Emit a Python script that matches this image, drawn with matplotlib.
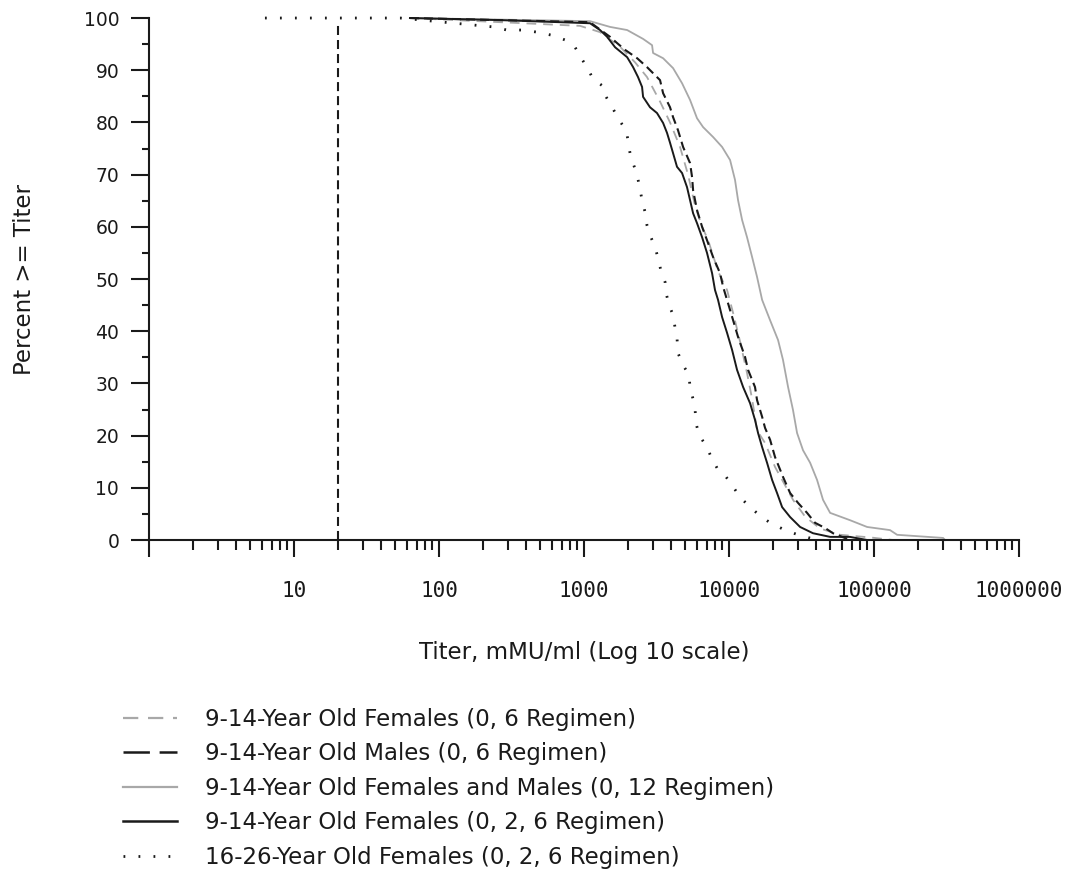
import matplotlib
matplotlib.use('Agg')
import matplotlib.pyplot as plt
from matplotlib.lines import Line2D
from matplotlib.ticker import MultipleLocator, LogLocator, NullFormatter

plt.rcParams['font.family'] = 'DejaVu Sans'
plt.rcParams['lines.scale_dashes'] = False

# reverse cumulative distributions (titer, percent >= titer)
fem06_titer = [63, 938, 1288, 1770, 2249, 2716, 3342, 3917, 4592, 5212, 5834, 6516,
               7161, 8395, 9683, 10666, 11912, 13305, 14421, 15596, 17701, 20749,
               24322, 27606, 33420, 42462, 58345, 93756, 135207]
fem06_pct = [100, 98.5, 97.3, 94.5, 91.5, 88.7, 84, 80, 75.3, 70, 64, 60,
             57.5, 51.5, 47.9, 43.5, 38, 32, 27, 21, 18.6, 14,
             10.5, 7.7, 4.5, 2.2, 1.0, 0.5, 0]

male06_titer = [63, 1099, 1510, 1690, 1919, 2323, 2716, 3342, 3508, 3917, 4111, 4446,
                4819, 5383, 5559, 5649, 6012, 6516, 7161, 7762, 8670, 9099, 9683,
                10666, 11535, 12882, 13521, 15101, 15596, 16904, 17701, 19187, 20749,
                23550, 26363, 29923, 34514, 39174, 45920, 52119, 68234]
male06_pct = [100, 99.2, 96.4, 95.2, 93.9, 92.3, 90.6, 88.1, 85.6, 82.9, 81, 78.5,
              75.3, 72.2, 69.5, 67, 63.2, 60, 56.9, 54.2, 51.1, 48.5, 46,
              42.1, 38.9, 35.1, 32.6, 29.3, 26.8, 23.6, 21.5, 19.2, 15.9,
              12.1, 9, 7.1, 5.2, 3.3, 2.3, 1.3, 0]

both012_titer = [63, 1099, 1510, 1982, 2553, 2944, 2992, 3508, 4111, 4742, 5383, 6012,
                 6622, 7762, 8954, 10162, 10990, 11535, 12303, 13305, 14421, 15596,
                 16904, 19187, 21777, 23550, 25527, 27606, 29444, 32359, 36224, 40458,
                 44463, 49774, 68234, 89536, 128825, 144212, 299226, 309030]
both012_pct = [100, 99.4, 98.3, 97.7, 96, 94.8, 93.3, 92.3, 90.4, 87.5, 84.3, 80.8,
               79.1, 77.2, 75.3, 72.8, 69, 65.1, 61.3, 58, 54.2, 50.4,
               46, 42.1, 38.3, 34.5, 29.3, 24.9, 20.5, 17.2, 14.8, 11.5,
               7.7, 5.2, 3.8, 2.5, 1.9, 1.0, 0.4, 0]

fem026_titer = [63, 264, 1099, 1288, 1442, 1637, 1982, 2178, 2355, 2512, 2553, 2851,
                3184, 3508, 3733, 3917, 4111, 4375, 4742, 5129, 5383, 5649, 6012,
                6516, 7047, 7638, 7998, 8395, 8954, 9683, 10495, 11350, 12503, 13964,
                15101, 15849, 16904, 18281, 19815, 21429, 23227, 26363, 30903, 37931,
                49774, 68234, 89536]
fem026_pct = [100, 99.6, 99, 97.7, 96.4, 94.4, 92.5, 90.6, 88.7, 86.8, 84.9, 82.9,
              81.8, 79.9, 78, 76.1, 74.1, 71.5, 70.3, 67.6, 65.1, 62.6, 60.7,
              58, 55, 51.1, 47.9, 46, 42.7, 39.7, 36.4, 32.6, 29.3, 26.2,
              23, 20.5, 17.8, 14.8, 11.5, 9, 6.3, 4.4, 2.5, 1.3,
              0.6, 0.6, 0]

adult026_titer = [6.3, 54, 236, 294, 373, 474, 601, 740, 867, 968, 1067, 1153, 1374,
                  1419, 1585, 1742, 1950, 2009, 2075, 2178, 2323, 2432, 2512, 2636,
                  2716, 2851, 3090, 3236, 3396, 3622, 3681, 3855, 4111, 4246, 4375,
                  4446, 4819, 5297, 5383, 5649, 5834, 5916, 6209, 7047, 7516, 8260,
                  9247, 10495, 11912, 13740, 16106, 19187, 24322, 29923, 40458]
adult026_pct = [100, 100, 98.3, 97.7, 97.7, 97.3, 96.7, 95.8, 94.4, 92.1, 90.2, 88.3, 86.8,
                84.9, 82.6, 80.5, 78.5, 76.6, 74.1, 72.2, 69.9, 67.2, 65.1, 62.8,
                60.3, 58.4, 56.1, 54.0, 51.5, 49.4, 47.3, 45.0, 43.1, 40.6, 38.7,
                35.8, 33.5, 31.6, 29.1, 27.0, 24.9, 22.4, 20.1, 17.8, 15.9, 13.8,
                12.6, 10.5, 8.2, 6.5, 4.8, 3.3, 1.9, 1.0, 0]

# dashed vertical line near the lower titer bound
vline_titer = [20, 20]
vline_pct = [0, 99]

xtick_vals = [1, 10, 100, 1000, 10000, 100000, 1000000]
xtick_labels = ['', '10', '100', '1000', '10000', '100000', '1000000']

legend_labels = ['9-14-Year Old Females (0, 6 Regimen)',
                 '9-14-Year Old Males (0, 6 Regimen)',
                 '9-14-Year Old Females and Males (0, 12 Regimen)',
                 '9-14-Year Old Females (0, 2, 6 Regimen)',
                 '16-26-Year Old Females (0, 2, 6 Regimen)']

GRAY = '#a8a8a8'
BLACK = '#1a1a1a'

fig = plt.figure(figsize=(10.7, 8.71), dpi=100)
ax = fig.add_axes([0.1393, 0.38, 0.8131, 0.5993])

ax.plot(both012_titer, both012_pct, color=GRAY, lw=1.3, clip_on=False)
ax.plot(fem06_titer, fem06_pct, color=GRAY, lw=1.3, dashes=(7, 5), clip_on=False)
ax.plot(fem026_titer, fem026_pct, color=BLACK, lw=1.4, clip_on=False)
ax.plot(male06_titer, male06_pct, color=BLACK, lw=1.5, dashes=(6.5, 3.6), clip_on=False)
ax.plot(vline_titer, vline_pct, color=BLACK, lw=1.5, dashes=(6.5, 3.6), clip_on=False)
ax.plot(adult026_titer, adult026_pct, color=BLACK, lw=2.0, dashes=(1.3, 9.5),
        dash_capstyle='butt', clip_on=False)

ax.set_xscale('log')
ax.set_xlim(1, 1e6)
ax.set_ylim(0, 100)
ax.set_xticks(xtick_vals, xtick_labels)
ax.xaxis.set_minor_locator(LogLocator(base=10, subs=range(2, 10), numticks=20))
ax.xaxis.set_minor_formatter(NullFormatter())
ax.set_yticks(range(0, 101, 10))
ax.yaxis.set_minor_locator(MultipleLocator(5))

for s in ['top', 'right']:
    ax.spines[s].set_visible(False)
for s in ['left', 'bottom']:
    ax.spines[s].set_linewidth(1.5)
    ax.spines[s].set_color(BLACK)

ax.tick_params(axis='y', which='major', direction='out', length=13, width=1.5,
               pad=8.5, labelsize=13.5, colors=BLACK)
ax.tick_params(axis='y', which='minor', direction='out', length=5, width=1.5, color=BLACK)
ax.tick_params(axis='x', which='major', direction='out', length=12.5, width=1.5,
               pad=17, labelsize=15, colors=BLACK)
ax.tick_params(axis='x', which='minor', direction='out', length=7.2, width=1.5, color=BLACK)
for lab in ax.get_xticklabels():
    lab.set_fontfamily('DejaVu Sans Mono')

ax.set_xlabel('Titer, mMU/ml (Log 10 scale)', fontsize=16.5, color=BLACK)
ax.xaxis.set_label_coords(0.5, -0.2146)
ax.xaxis.label.set_va('center')
ax.set_ylabel('Percent >= Titer', fontsize=16.5, color=BLACK)
ax.yaxis.set_label_coords(-0.143, 0.5)
ax.yaxis.label.set_va('center')

handles = [Line2D([], [], color=GRAY, lw=1.6, dashes=(11, 7)),
           Line2D([], [], color=BLACK, lw=1.8, dashes=(19, 7)),
           Line2D([], [], color=GRAY, lw=1.6),
           Line2D([], [], color=BLACK, lw=1.8),
           Line2D([], [], color=BLACK, lw=2.0, dashes=(1.3, 9.5), dash_capstyle='butt')]
fig.legend(handles, legend_labels, loc='upper left', bbox_to_anchor=(0.115, 0.1872),
           frameon=False, fontsize=16.5, handlelength=2.36, handletextpad=1.2,
           labelspacing=0.5, borderpad=0, borderaxespad=0, labelcolor=BLACK)

fig.savefig('out.png', dpi=100)
